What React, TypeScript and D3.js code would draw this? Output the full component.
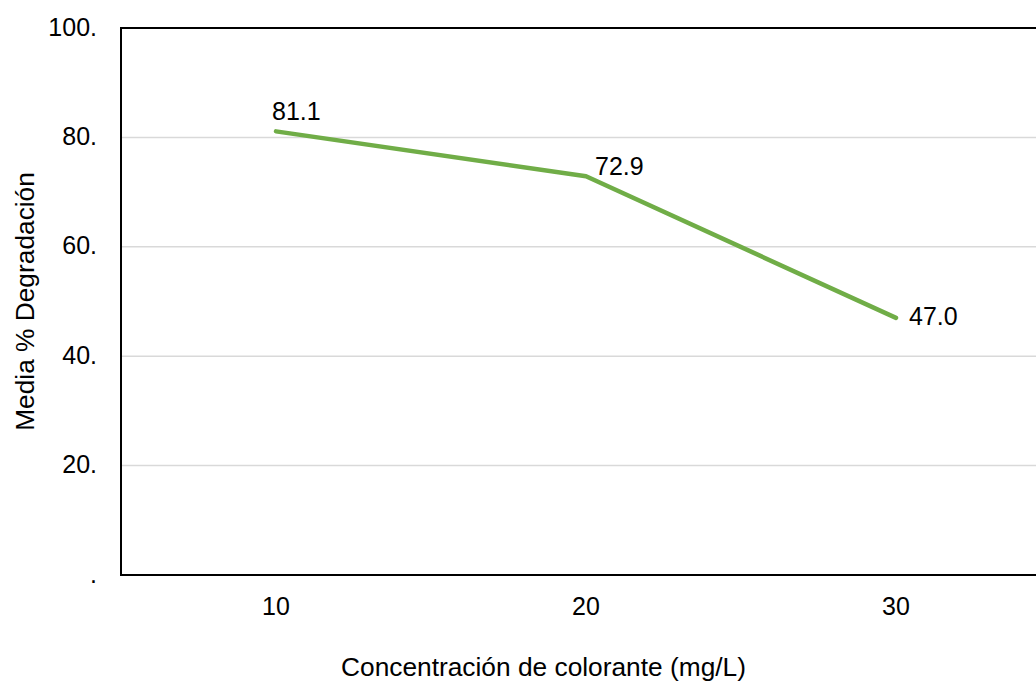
import React from "react";
import * as d3 from "d3";

const categories = ["10", "20", "30"];
const values = [81.1, 72.9, 47.0];
const yTicks = [0, 20, 40, 60, 80, 100];
const yTickLabels = [".", "20.", "40.", "60.", "80.", "100."];
const xTitle = "Concentración de colorante (mg/L)";
const yTitle = "Media % Degradación";

export default function App() {
  const W = 1036, H = 682;
  const left = 121, top = 28, bottom = 575, right = 1051;
  const x = d3.scaleBand().domain(categories).range([left, right]);
  const y = d3.scaleLinear().domain([0, 100]).range([bottom, top]);
  const cx = (c: string) => (x(c) as number) + x.bandwidth() / 2;
  const line = d3.line<number>().x((_, i) => cx(categories[i])).y((d) => y(d));
  const font = "'Liberation Sans', Arial, sans-serif";
  const fs = 25;
  const titleFs = 26.3;
  const labelOffsets = [
    [-4, -11.5],
    [9, -1],
    [13, 7],
  ];
  return (
    <div style={{ position: "fixed", left: 0, top: 0, width: W, height: H, overflow: "hidden", background: "#fff" }}>
      <svg width={W} height={H} style={{ display: "block" }} fontFamily={font}>
        <rect width={W} height={H} fill="#fff" />
        {yTicks.filter((t) => t > 0 && t < 100).map((t) => (
          <line key={t} x1={left} x2={right} y1={y(t)} y2={y(t)} stroke="#d9d9d9" strokeWidth={1.5} />
        ))}
        <path d={`M${right},${top}H${left}V${bottom}H${right}`} fill="none" stroke="#000" strokeWidth={2} />
        {yTicks.map((t, i) => (
          <text key={t} x={97} y={y(t)} dy="0.3em" textAnchor="end" fontSize={fs} fill="#000">
            {yTickLabels[i]}
          </text>
        ))}
        {categories.map((c) => (
          <text key={c} x={cx(c)} y={615} textAnchor="middle" fontSize={fs} fill="#000">
            {c}
          </text>
        ))}
        <path d={line(values) || ""} fill="none" stroke="#70ad47" strokeWidth={4.5} strokeLinecap="round" strokeLinejoin="round" />
        {values.map((v, i) => (
          <text key={i} x={cx(categories[i]) + labelOffsets[i][0]} y={y(v) + labelOffsets[i][1]} fontSize={fs} fill="#000">
            {v.toFixed(1)}
          </text>
        ))}
        <text x={543.5} y={676} textAnchor="middle" fontSize={titleFs} fill="#000">{xTitle}</text>
        <text transform={`translate(34,301.5) rotate(-90)`} textAnchor="middle" fontSize={titleFs} fill="#000">{yTitle}</text>
      </svg>
    </div>
  );
}
